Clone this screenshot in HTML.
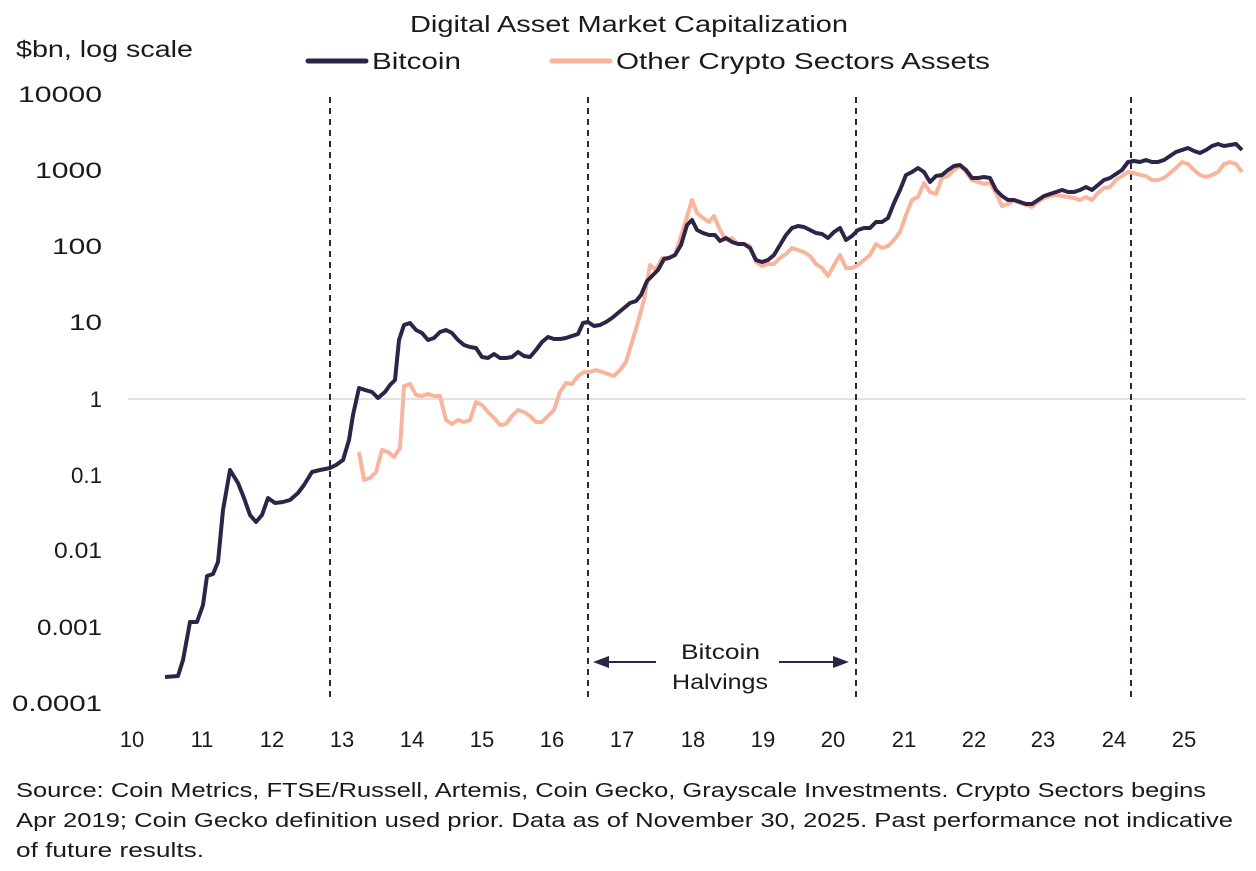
<!DOCTYPE html>
<html><head><meta charset="utf-8"><style>
html,body{margin:0;padding:0;background:#fff;width:1256px;height:871px;overflow:hidden;font-family:"Liberation Sans",sans-serif;}
</style></head><body>
<svg width="1256" height="871" xmlns="http://www.w3.org/2000/svg" font-family="Liberation Sans, sans-serif" fill="#1a1a1a">
<text x="410" y="32" font-size="23" textLength="438" lengthAdjust="spacingAndGlyphs">Digital Asset Market Capitalization</text>
<text x="16" y="57" font-size="23" textLength="177" lengthAdjust="spacingAndGlyphs">$bn, log scale</text>
<line x1="308" y1="61" x2="366" y2="61" stroke="#2e2447" stroke-width="5" stroke-linecap="round"/>
<text x="372" y="69" font-size="23" textLength="89" lengthAdjust="spacingAndGlyphs">Bitcoin</text>
<line x1="552" y1="61" x2="610" y2="61" stroke="#f9b49c" stroke-width="5" stroke-linecap="round"/>
<text x="616" y="69" font-size="23" textLength="374" lengthAdjust="spacingAndGlyphs">Other Crypto Sectors Assets</text>
<g font-size="22" text-anchor="end" lengthAdjust="spacingAndGlyphs">
<text x="102" y="102" textLength="84" lengthAdjust="spacingAndGlyphs">10000</text>
<text x="102" y="178" textLength="67" lengthAdjust="spacingAndGlyphs">1000</text>
<text x="102" y="254" textLength="50" lengthAdjust="spacingAndGlyphs">100</text>
<text x="102" y="330" textLength="33" lengthAdjust="spacingAndGlyphs">10</text>
<text x="102" y="407">1</text>
<text x="102" y="483" textLength="31" lengthAdjust="spacingAndGlyphs">0.1</text>
<text x="102" y="558" textLength="48" lengthAdjust="spacingAndGlyphs">0.01</text>
<text x="102" y="635" textLength="65" lengthAdjust="spacingAndGlyphs">0.001</text>
<text x="102" y="711" textLength="90" lengthAdjust="spacingAndGlyphs">0.0001</text>
</g>
<line x1="128" y1="399" x2="1246" y2="399" stroke="#d8d8d8" stroke-width="1.5"/>
<g font-size="22" text-anchor="middle">
<text x="132" y="747">10</text><text x="202" y="747">11</text><text x="272" y="747">12</text><text x="342" y="747">13</text>
<text x="412" y="747">14</text><text x="482" y="747">15</text><text x="552" y="747">16</text><text x="622" y="747">17</text>
<text x="693" y="747">18</text><text x="763" y="747">19</text><text x="833" y="747">20</text><text x="904" y="747">21</text>
<text x="974" y="747">22</text><text x="1043" y="747">23</text><text x="1114" y="747">24</text><text x="1184" y="747">25</text>
</g>
<g stroke="#2e2447" stroke-width="2" stroke-dasharray="6,5">
<line x1="330" y1="97" x2="330" y2="700"/><line x1="588" y1="97" x2="588" y2="700"/>
<line x1="856" y1="97" x2="856" y2="700"/><line x1="1131" y1="97" x2="1131" y2="700"/>
</g>
<g stroke="#2e2447" stroke-width="2"><line x1="605" y1="662" x2="656" y2="662"/><line x1="779" y1="662" x2="835" y2="662"/></g>
<polygon points="593,662 609,656 609,668" fill="#2e2447"/>
<polygon points="849,662 833,656 833,668" fill="#2e2447"/>
<text x="681" y="659" font-size="21" textLength="79" lengthAdjust="spacingAndGlyphs">Bitcoin</text>
<text x="672" y="689" font-size="21" textLength="96" lengthAdjust="spacingAndGlyphs">Halvings</text>
<polyline fill="none" stroke="#f9b49c" stroke-width="4" stroke-linejoin="round" points="359,452 364,480 370,478 376,472 382,450 388,452 394,457 400,448 404,386 410,384 416,395 422,396 428,394 434,396 440,396 446,420 452,424 458,420 464,422 470,420 476,402 482,405 488,412 494,418 500,425 506,424 512,416 518,410 524,412 530,416 536,422 542,422 548,416 554,410 560,392 566,383 572,384 578,376 584,372 590,372 596,370 602,372 608,374 614,376 620,370 626,362 632,342 638,322 644,300 650,265 656,270 662,258 668,258 675,255 681,236 686,220 692,200 697,213 703,218 709,222 714,216 720,230 726,240 732,238 738,244 744,244 750,246 756,262 762,266 768,264 774,264 780,258 786,254 792,248 798,250 804,252 810,256 816,264 822,268 828,276 834,265 840,255 846,268 852,268 858,265 864,260 870,255 876,244 882,248 888,246 894,240 900,232 906,215 912,200 918,197 924,183 930,192 936,194 942,178 948,176 954,170 960,166 966,172 972,180 978,182 984,184 990,183 996,193 1002,206 1008,204 1014,200 1020,203 1026,205 1032,207 1038,202 1044,198 1050,196 1056,195 1062,196 1068,197 1074,198 1080,200 1086,197 1092,200 1098,193 1104,188 1110,187 1116,180 1122,176 1128,172 1134,173 1140,175 1146,176 1152,180 1158,180 1164,178 1170,173 1176,168 1182,162 1188,164 1194,170 1200,175 1206,177 1212,175 1218,172 1224,164 1230,162 1236,164 1242,172"/>
<polyline fill="none" stroke="#2e2447" stroke-width="4" stroke-linejoin="round" points="165,677 178,676 183,660 190,622 197,622 203,605 207,576 213,574 218,562 223,510 230,470 238,483 244,498 250,515 256,522 262,515 268,498 275,503 283,502 290,500 298,493 304,485 312,472 320,470 330,468 336,465 343,460 349,440 353,415 359,388 365,390 372,392 378,398 385,392 390,385 395,380 399,340 404,325 410,323 416,330 422,333 428,340 434,338 440,332 446,330 452,333 458,340 464,345 470,347 476,348 482,357 488,358 494,354 500,358 506,358 512,357 518,352 524,356 530,357 536,350 542,342 548,337 554,339 560,339 566,338 572,336 578,334 583,323 588,322 594,326 600,325 606,322 612,318 618,313 624,308 630,303 636,301 641,295 647,281 652,276 658,270 664,259 669,258 675,255 681,245 687,225 692,220 697,230 703,233 709,235 715,235 720,241 726,238 732,242 738,244 744,244 750,248 756,260 762,262 768,260 774,255 780,245 786,235 792,228 798,226 804,227 810,230 816,233 822,234 828,238 834,232 840,228 846,240 852,236 858,230 864,228 870,228 876,222 882,222 888,218 894,203 900,190 906,175 912,172 918,168 924,172 930,182 936,176 942,175 948,170 954,166 960,165 966,170 972,178 978,178 984,177 990,178 996,190 1002,196 1008,200 1014,200 1020,202 1026,204 1032,204 1038,200 1044,196 1050,194 1056,192 1062,190 1068,192 1074,192 1080,190 1086,187 1092,190 1098,185 1104,180 1110,178 1116,174 1122,170 1128,162 1134,161 1140,162 1146,160 1152,162 1158,162 1164,160 1170,156 1176,152 1182,150 1188,148 1194,151 1200,153 1206,150 1212,146 1218,144 1224,146 1230,145 1236,144 1242,150"/>
<g font-size="20.5">
<text x="16" y="797" textLength="1190" lengthAdjust="spacingAndGlyphs">Source: Coin Metrics, FTSE/Russell, Artemis, Coin Gecko, Grayscale Investments. Crypto Sectors begins</text>
<text x="16" y="827" textLength="1217" lengthAdjust="spacingAndGlyphs">Apr 2019; Coin Gecko definition used prior. Data as of November 30, 2025. Past performance not indicative</text>
<text x="16" y="857" textLength="188" lengthAdjust="spacingAndGlyphs">of future results.</text>
</g>
</svg>
</body></html>
